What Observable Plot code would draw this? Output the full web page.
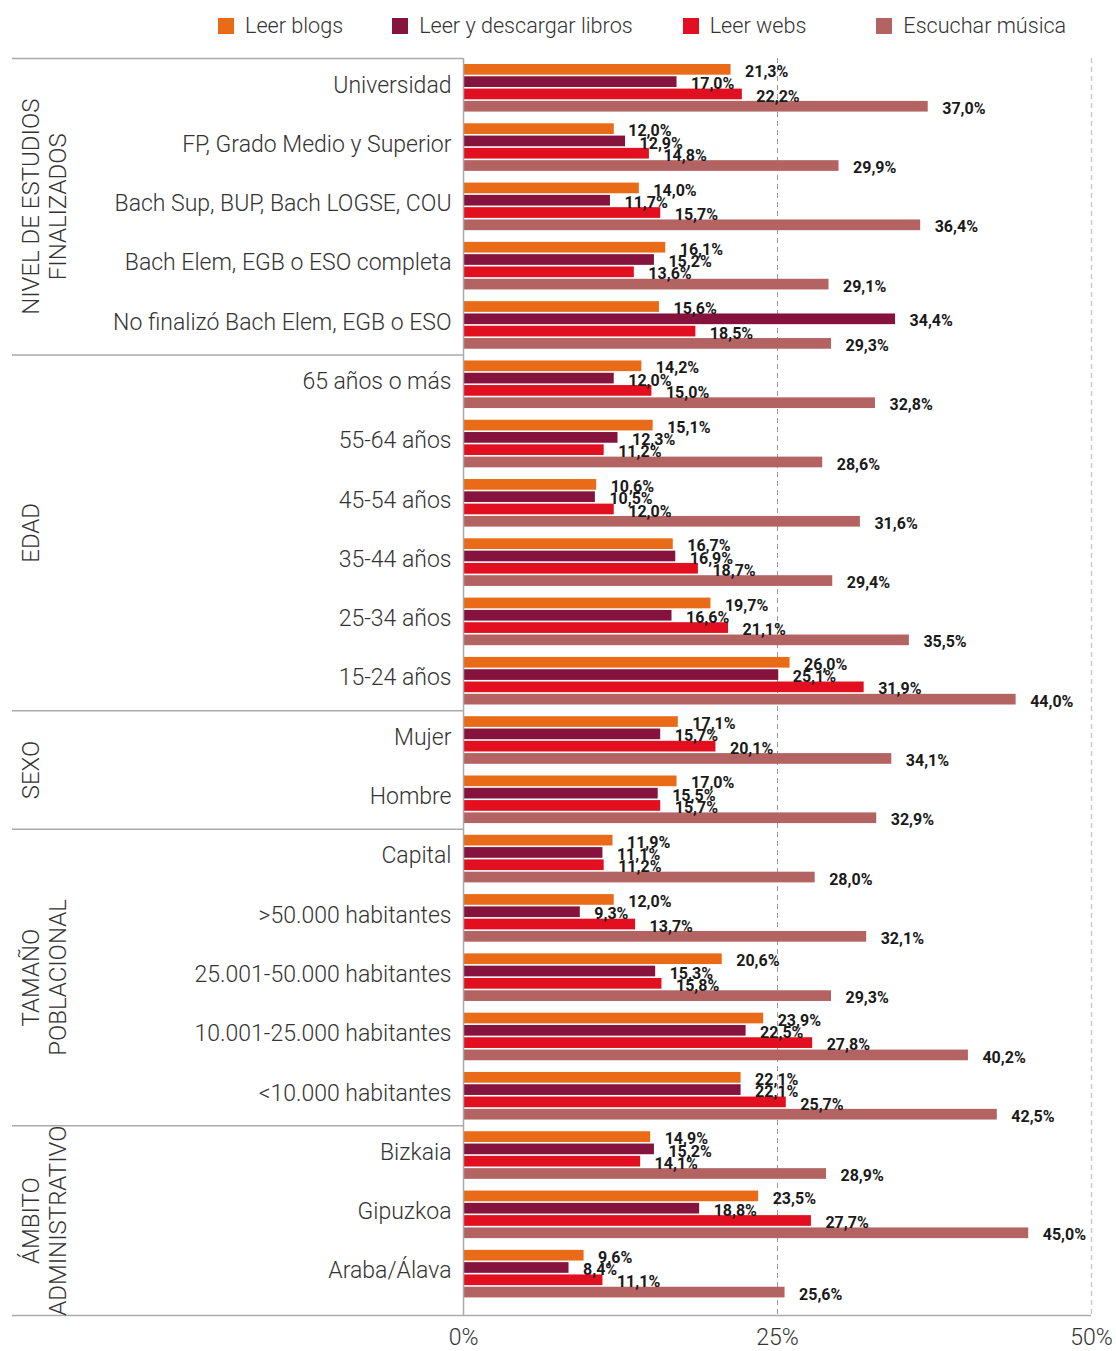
<!DOCTYPE html>
<html><head><meta charset="utf-8">
<script src="https://cdn.jsdelivr.net/npm/d3@7"></script>
<script src="https://cdn.jsdelivr.net/npm/@observablehq/plot@0.6"></script>
<style>
body{margin:0;background:#fff;font-family:Roboto,sans-serif;}
#legend{height:51px;display:flex;align-items:center;padding-left:218px;box-sizing:border-box;font-family:Roboto,sans-serif;font-weight:300;font-size:21.6px;color:#333;}
.item{display:flex;align-items:center;white-space:nowrap;}
.sw{width:16px;height:16px;margin-right:11px;flex:none;}
#chart svg{display:block;}
</style></head><body>
<div id="legend"></div>
<div id="chart"></div>
<script>
const series = ["Leer blogs","Leer y descargar libros","Leer webs","Escuchar música"];
const colors = ["#e96a17","#86133e","#e10f1f","#b46363"];
const groupLabels = ["NIVEL DE ESTUDIOS\nFINALIZADOS","EDAD","SEXO","TAMAÑO\nPOBLACIONAL","ÁMBITO\nADMINISTRATIVO"];
const groupSizes = [5,6,2,5,3];
const categories = [
  "Universidad","FP, Grado Medio y Superior","Bach Sup, BUP, Bach LOGSE, COU","Bach Elem, EGB o ESO completa","No finalizó Bach Elem, EGB o ESO",
  "65 años o más","55-64 años","45-54 años","35-44 años","25-34 años","15-24 años",
  "Mujer","Hombre",
  "Capital",">50.000 habitantes","25.001-50.000 habitantes","10.001-25.000 habitantes","<10.000 habitantes",
  "Bizkaia","Gipuzkoa","Araba/Álava"
];
const leerBlogs      = [21.3,12.0,14.0,16.1,15.6, 14.2,15.1,10.6,16.7,19.7,26.0, 17.1,17.0, 11.9,12.0,20.6,23.9,22.1, 14.9,23.5,9.6];
const leerLibros     = [17.0,12.9,11.7,15.2,34.4, 12.0,12.3,10.5,16.9,16.6,25.1, 15.7,15.5, 11.1,9.3,15.3,22.5,22.1, 15.2,18.8,8.4];
const leerWebs       = [22.2,14.8,15.7,13.6,18.5, 15.0,11.2,12.0,18.7,21.1,31.9, 20.1,15.7, 11.2,13.7,15.8,27.8,25.7, 14.1,27.7,11.1];
const escucharMusica = [37.0,29.9,36.4,29.1,29.3, 32.8,28.6,31.6,29.4,35.5,44.0, 34.1,32.9, 28.0,32.1,29.3,40.2,42.5, 28.9,45.0,25.6];
const xTicks = [0,25,50];

// legend
const legendGaps = [0,49,50,70];
const leg = document.getElementById("legend");
series.forEach((s,k)=>{
  const it = document.createElement("div"); it.className="item"; it.style.marginLeft = legendGaps[k]+"px";
  const sw = document.createElement("div"); sw.className="sw"; sw.style.background = colors[k];
  const tx = document.createElement("span"); tx.textContent = s;
  it.appendChild(sw); it.appendChild(tx); leg.appendChild(it);
});

// layout (category units)
const pad = 0.101, pitch = 0.2074, bh = 0.1804;
const yMax = 21.2;
const xMin = -35.91;
const allSeries = [leerBlogs, leerLibros, leerWebs, escucharMusica];
const data = [];
categories.forEach((c,i)=>{
  allSeries.forEach((arr,k)=>{
    const y1 = i + pad + k*pitch;
    data.push({cat:c, series:series[k], value:arr[i], y1, y2:y1+bh, yc:y1+bh/2});
  });
});
const catRows = categories.map((c,i)=>({c, y:i+0.45}));
const bounds = [];
let acc = 0;
groupSizes.forEach(n=>{bounds.push(acc); acc+=n;});
const groupRows = groupLabels.map((g,j)=>{
  const s = bounds[j], e = j<groupSizes.length-1 ? bounds[j+1] : yMax;
  return {g, y:(s+e)/2};
});
const fmt = v => v.toFixed(1).replace(".",",")+"%";

const chart = Plot.plot({
  width:1116, height:1300,
  marginTop:7, marginBottom:36, marginLeft:12, marginRight:25,
  style:{fontFamily:"Roboto, sans-serif", fontSize:"22px", fontWeight:300, color:"#333", background:"#fff"},
  x:{domain:[xMin,50], axis:null},
  y:{domain:[0,yMax], reverse:true, axis:null},
  color:{domain:series, range:colors},
  marks:[
    Plot.ruleX([25], {stroke:"#999", strokeDasharray:"5,4", strokeWidth:1}),
    Plot.ruleX([50], {stroke:"#ccc", strokeDasharray:"5,4", strokeWidth:1.5}),
    Plot.rect(data, {x1:0, x2:"value", y1:"y1", y2:"y2", fill:"series"}),
    Plot.ruleX([0], {stroke:"#aaa", strokeWidth:1.5}),
    Plot.ruleY(bounds, {x1:xMin, x2:0, stroke:"#aaa", strokeWidth:1.5}),
    Plot.ruleY([yMax], {x1:xMin, x2:50, stroke:"#aaa", strokeWidth:1.5}),
    Plot.text(data, {x:"value", y:"yc", text:d=>fmt(d.value), dx:14, dy:2, textAnchor:"start",
      fontFamily:"Roboto, sans-serif", fontWeight:700, fontSize:16, fill:"#1a1a1a"}),
    Plot.text(catRows, {x:0, y:"y", text:"c", dx:-12, textAnchor:"end", fontSize:23, fontWeight:300, fill:"#333"}),
    Plot.text(groupRows, {x:xMin, y:"y", text:"g", rotate:-90, dx:7, lineAnchor:"top", lineHeight:1.125, textAnchor:"middle", fontSize:24, fontWeight:300, fill:"#333"}),
    Plot.axisX({ticks:xTicks, tickSize:0, tickPadding:13, tickFormat:d=>d+"%", fontSize:23, fontWeight:300, fill:"#333", label:null})
  ]
});
document.getElementById("chart").appendChild(chart);
</script>
</body></html>
